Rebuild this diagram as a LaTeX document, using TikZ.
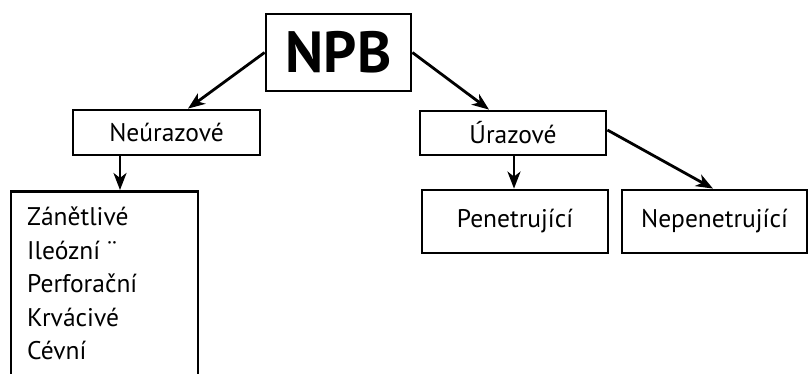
\documentclass[tikz,border=0pt]{standalone}
\usepackage{fontspec}
\setmainfont{PT Sans}
\usetikzlibrary{arrows.meta,calc}
\begin{document}
\begin{tikzpicture}[x=1pt,y=-1pt,
  box/.style={draw,line width=2.8pt,inner sep=0pt,font=\fontsize{25.5}{30}\selectfont},
  conn/.style={line width=2.8pt,-{Stealth[length=17pt,width=13pt,inset=5pt]}}]
\useasboundingbox (0,0) rectangle (808,374);
\clip (0,0) rectangle (808,374);
\node[box,minimum width=145pt,minimum height=77pt,font=\fontsize{58}{62}\bfseries\selectfont] (npb) at (338.5,52.5) {NPB};
\node[box,minimum width=187pt,minimum height=45pt] (neur) at (166.5,132.5) {Neúrazové};
\node[box,minimum width=186pt,minimum height=44pt] (ur) at (513,133) {Úrazové};
\node[box,minimum width=187pt,minimum height=240pt,anchor=north] (listbox) at (104.5,190) {};
\node[anchor=north west,align=left,inner sep=0pt,font=\fontsize{25.5}{33.5}\selectfont] (listtext) at (27,207) {Zánětlivé\\Ileózní ¨\\Perforační\\Krvácivé\\Cévní};
\node[box,minimum width=186pt,minimum height=63pt] (pen) at (515,221.5) {Penetrující};
\node[box,minimum width=185pt,minimum height=63pt] (nep) at (714.5,221.5) {Nepenetrující};
\coordinate (ca) at (120,0);
\coordinate (cb) at (514,0);
\draw[conn] (npb.west) -- ([xshift=21.5pt]neur.north);
\draw[conn] (npb.east) -- ([xshift=-24pt]ur.north);
\draw[conn] (neur.south -| ca) -- (listbox.north -| ca);
\draw[conn] (ur.south -| cb) -- (pen.north -| cb);
\draw[conn] ([yshift=3pt]ur.east) -- ([xshift=-1.5pt]nep.north);
\end{tikzpicture}
\end{document}
